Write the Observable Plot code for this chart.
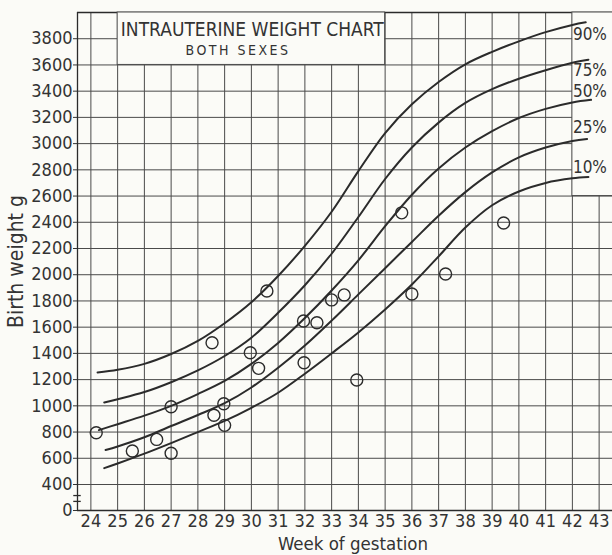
<!DOCTYPE html>
<html><head><meta charset="utf-8">
<script src="https://cdn.jsdelivr.net/npm/d3@7"></script>
<script src="https://cdn.jsdelivr.net/npm/@observablehq/plot@0.6"></script>
<style>
html,body{margin:0;padding:0;background:#fbfbf7;}
</style></head><body><div id="chart"></div>
<script>
// ---- data ----
const xTicks = [24,25,26,27,28,29,30,31,32,33,34,35,36,37,38,39,40,41,42,43];
const yTicks = [0,400,600,800,1000,1200,1400,1600,1800,2000,2200,2400,2600,2800,3000,3200,3400,3600,3800];
const gridWeeks = [24,25,26,27,28,29,30,31,32,33,34,35,36,37,38,39,40,41,42,43];
const gridWeights = [400,600,800,1000,1200,1400,1600,1800,2000,2200,2400,2600,2800,3000,3200,3400,3600,3800];

const p90Weeks = [24.25,25,26,27,28,29,30,31,32,33,34,35,36,37,38,39,40,41,42,42.5];
const p90 = [1255,1275,1320,1395,1495,1630,1790,1990,2220,2480,2790,3080,3300,3470,3605,3700,3780,3850,3905,3925];
const p75Weeks = [24.5,25,26,27,28,29,30,31,32,33,34,35,36,37,38,39,40,41,42,42.6];
const p75 = [1025,1050,1105,1180,1270,1380,1520,1710,1920,2160,2440,2730,2970,3160,3310,3415,3495,3560,3617,3640];
const p50Weeks = [24.3,25,26,27,28,29,30,31,32,33,34,35,36,37,38,39,40,41,42,42.7];
const p50 = [815,860,925,1000,1090,1190,1320,1480,1670,1880,2110,2370,2610,2810,2970,3095,3195,3265,3314,3334];
const p25Weeks = [24.55,25,26,27,28,29,30,31,32,33,34,35,36,37,38,39,40,41,42,42.55];
const p25 = [663,690,760,846,930,1020,1140,1290,1460,1650,1850,2050,2250,2450,2630,2780,2895,2970,3020,3036];
const p10Weeks = [24.5,25,26,27,28,29,30,31,32,33,34,35,36,37,38,39,40,41,42,42.6];
const p10 = [525,560,635,716,800,885,985,1100,1245,1400,1560,1735,1925,2140,2360,2530,2635,2700,2735,2745];

const pctLabels = ["90%","75%","50%","25%","10%"];
const pctLabelWeights = [3830,3560,3400,3120,2820];

const obsWeeks = [24.2,25.55,26.46,27,27,28.53,28.6,28.97,29,29.96,30.27,30.58,31.95,32.45,31.97,33,33.47,33.94,35.62,36,37.26,39.43];
const obsWeights = [795,655,744,993,638,1481,928,1016,851,1405,1286,1876,1647,1634,1329,1808,1846,1197,2472,1853,2006,2395];

const title = "INTRAUTERINE WEIGHT CHART";
const subtitle = "BOTH SEXES";
const xLabel = "Week of gestation";
const yLabel = "Birth weight g";

// ---- tables ----
const curves = [
  ["90%", p90Weeks, p90], ["75%", p75Weeks, p75], ["50%", p50Weeks, p50],
  ["25%", p25Weeks, p25], ["10%", p10Weeks, p10]
].flatMap(([k, w, v]) => w.map((wk, i) => ({pct: k, week: wk, weight: v[i]})));
const obs = obsWeeks.map((w, i) => ({week: w, weight: obsWeights[i]}));
const labels = pctLabels.map((t, i) => ({t, weight: pctLabelWeights[i]}));

const ink = "#2b2b2b";
const gridInk = "#4a4a4a";
const font = "'Liberation Sans Narrow','DejaVu Sans Condensed','Liberation Sans',sans-serif";

const chart = Plot.plot({
  width: 612,
  height: 555,
  marginLeft: 77,
  marginRight: 0,
  marginTop: 12,
  marginBottom: 45,
  style: {background: "#fbfbf7", fontFamily: font, fontSize: "18px", color: "#333"},
  x: {domain: [23.5, 43.5], ticks: xTicks, tickSize: 0, tickPadding: 4, label: null},
  y: {type: "linear", domain: [0, 400, 4000], range: [510, 484, 12], ticks: yTicks, tickSize: 4, tickPadding: 1, label: null, tickFormat: d => String(d)},
  marks: [
    Plot.ruleX(gridWeeks, {stroke: gridInk, strokeWidth: 1}),
    Plot.ruleY(gridWeights, {stroke: gridInk, strokeWidth: 1}),
    Plot.ruleY([0, 4000], {stroke: ink, strokeWidth: 1.3}),
    Plot.ruleX([23.5], {stroke: ink, strokeWidth: 1.3}),
    Plot.rect([0], {x1: 25, x2: 35, y1: 3600, y2: 4000, fill: "#fbfbf7", stroke: gridInk, strokeWidth: 1}),
    Plot.rect([0], {x1: 42, x2: 43.6, y1: 2600, y2: 4000, fill: "#fbfbf7", stroke: gridInk, strokeWidth: 1}),
    Plot.ruleY([230, 140], {x1: 23.36, x2: 23.64, stroke: ink, strokeWidth: 1.3}),
    Plot.line(curves, {x: "week", y: "weight", z: "pct", curve: "catmull-rom", stroke: ink, strokeWidth: 2}),
    Plot.dot(obs, {x: "week", y: "weight", r: 6, stroke: ink, strokeWidth: 1.4, fill: "none"}),
    Plot.text(labels, {x: 42.02, y: "weight", text: "t", textAnchor: "start", fontSize: 17, fill: "#333"}),
    Plot.text([title], {x: 25.12, y: 3870, text: d => d, textAnchor: "start", fontSize: 19, fill: "#333"}),
    Plot.text([subtitle], {x: 29.5, y: 3708, text: d => d, textAnchor: "middle", fontSize: 14, fill: "#333"}),
    Plot.text([xLabel], {frameAnchor: "bottom", lineAnchor: "middle", dy: 34, dx: 8, text: d => d, fontSize: 18.5, fill: "#333"}),
    Plot.text([yLabel], {frameAnchor: "left", textAnchor: "middle", lineAnchor: "middle", rotate: -90, dx: -61, text: d => d, fontSize: 21, fill: "#333"})
  ]
});
d3.select(chart).selectAll("text").filter(function(){ return this.textContent === subtitle; }).attr("letter-spacing", "2.5px");
document.getElementById("chart").appendChild(chart);
</script></body></html>
